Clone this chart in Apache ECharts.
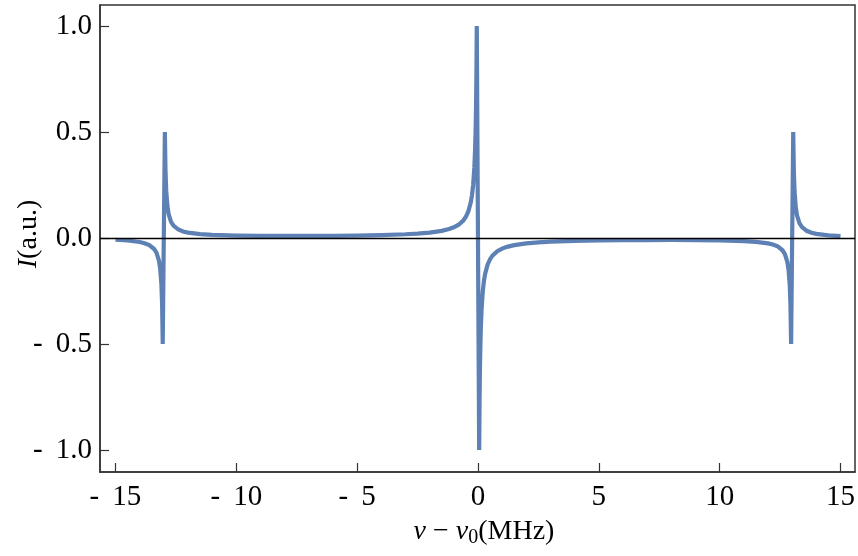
<!DOCTYPE html>
<html>
<head>
<meta charset="utf-8">
<script src="https://cdn.jsdelivr.net/npm/echarts@6/dist/echarts.min.js"></script>
<style>html,body{margin:0;padding:0;background:#fff;}#c{width:858px;height:556px;}</style>
</head>
<body>
<div id="c"></div>
<script>
// detuning (MHz)
var detuning = [-15, -14.5, -14, -13.8, -13.6, -13.4, -13.3, -13.2, -13.15, -13.1, -13.07, -13.044,
  -12.956, -12.93, -12.9, -12.85, -12.8, -12.7, -12.6, -12.4, -12.2, -12, -11.5, -11, -10, -9, -8, -7, -6, -5, -4, -3, -2.5, -2, -1.5, -1.2, -1, -0.8, -0.6, -0.5, -0.4, -0.3, -0.25, -0.2, -0.15, -0.12, -0.1, -0.08, -0.065, -0.05,
  0.05, 0.065, 0.08, 0.1, 0.12, 0.15, 0.2, 0.25, 0.3, 0.4, 0.5, 0.6, 0.8, 1, 1.2, 1.5, 2, 2.5, 3, 4, 5, 6, 7, 8, 9, 10, 11, 11.5, 12, 12.2, 12.4, 12.6, 12.7, 12.8, 12.85, 12.9, 12.93, 12.956,
  13.044, 13.07, 13.1, 13.15, 13.2, 13.3, 13.4, 13.6, 13.8, 14, 14.5, 15];
// intensity (a.u.)
var intensity = [-0.0085, -0.012, -0.0192, -0.0247, -0.0338, -0.0521, -0.0704, -0.107, -0.144, -0.217, -0.311, -0.5,
  0.5, 0.317, 0.223, 0.150, 0.113, 0.0764, 0.0581, 0.0398, 0.0307, 0.0253, 0.0181, 0.0146, 0.0114, 0.0101, 0.0096, 0.0097, 0.0103, 0.0115, 0.0137, 0.0175, 0.0207, 0.0255, 0.0337, 0.042, 0.0503, 0.0627, 0.0835, 0.100, 0.125, 0.167, 0.200, 0.250, 0.333, 0.417, 0.500, 0.625, 0.769, 1.0,
  -1.0, -0.769, -0.625, -0.500, -0.417, -0.333, -0.250, -0.200, -0.167, -0.125, -0.100, -0.0835, -0.0627, -0.0503, -0.042, -0.0337, -0.0255, -0.0207, -0.0175, -0.0137, -0.0115, -0.0103, -0.0097, -0.0096, -0.0101, -0.0114, -0.0146, -0.0181, -0.0253, -0.0307, -0.0398, -0.0581, -0.0764, -0.113, -0.150, -0.223, -0.317, -0.5,
  0.5, 0.311, 0.217, 0.144, 0.107, 0.0704, 0.0521, 0.0338, 0.0247, 0.0192, 0.012, 0.0085];
var xTicks = [-15, -10, -5, 0, 5, 10, 15];
var yTicks = [-1, -0.5, 0, 0.5, 1];

var points = detuning.map(function (x, i) { return [x, intensity[i]]; });
var FONT = 'Liberation Serif';

function fmtX(v) { v = Number(v); return v < 0 ? '- \u2009' + Math.abs(v) : String(v); }
function fmtY(v) { v = Number(v); return v < 0 ? '- \u2009' + Math.abs(v).toFixed(1) : v.toFixed(1); }

var chart = echarts.init(document.getElementById('c'), null, {renderer: 'canvas'});
chart.setOption({
  animation: false,
  backgroundColor: '#fff',
  grid: {left: 100, right: 3, top: 5, bottom: 84, show: true, borderColor: '#333', borderWidth: 1.5, backgroundColor: 'transparent'},
  xAxis: {
    type: 'value', min: -15.64, max: 15.6,
    axisLine: {show: true, onZero: false, lineStyle: {color: '#333', width: 1.5}},
    axisTick: {show: true, inside: true, length: 9, customValues: xTicks, lineStyle: {color: '#333', width: 1.2}},
    axisLabel: {show: true, customValues: xTicks, formatter: fmtX, fontFamily: FONT, fontSize: 29, color: '#000', margin: 11},
    splitLine: {show: false}
  },
  yAxis: {
    type: 'value', min: -1.104, max: 1.099,
    axisLine: {show: true, onZero: false, lineStyle: {color: '#333', width: 1.5}},
    axisTick: {show: true, inside: true, length: 9, customValues: yTicks, lineStyle: {color: '#333', width: 1.2}},
    axisLabel: {show: true, customValues: yTicks, formatter: fmtY, fontFamily: FONT, fontSize: 29, color: '#000', margin: 8},
    splitLine: {show: false}
  },
  series: [{
    type: 'line', data: points, showSymbol: false, symbol: 'none', smooth: false,
    lineStyle: {color: '#5E81B5', width: 4.2, cap: 'butt', join: 'miter'},
    z: 2,
    markLine: {
      silent: true, symbol: ['none', 'none'], label: {show: false},
      lineStyle: {color: '#000', width: 1.3, type: 'solid'},
      data: [{yAxis: 0}], z: 3
    }
  }],
  graphic: [
    {
      type: 'text', x: 484, y: 532,
      style: {
        align: 'center', verticalAlign: 'middle',
        text: '{i|ν}{n| − }{i|ν}{s|0}{n|(MHz)}',
        rich: {
          i: {fontFamily: FONT, fontStyle: 'italic', fontSize: 28, fill: '#000'},
          n: {fontFamily: FONT, fontSize: 28, fill: '#000'},
          s: {fontFamily: FONT, fontSize: 20, fill: '#000', padding: [12, 0, 0, 0]}
        }
      }
    },
    {
      type: 'text', x: 29, y: 234, rotation: Math.PI / 2,
      style: {
        align: 'center', verticalAlign: 'middle',
        text: '{i|I}{n|(a.u.)}',
        rich: {
          i: {fontFamily: FONT, fontStyle: 'italic', fontSize: 28, fill: '#000'},
          n: {fontFamily: FONT, fontSize: 28, fill: '#000'}
        }
      }
    }
  ]
});
</script>
</body>
</html>
